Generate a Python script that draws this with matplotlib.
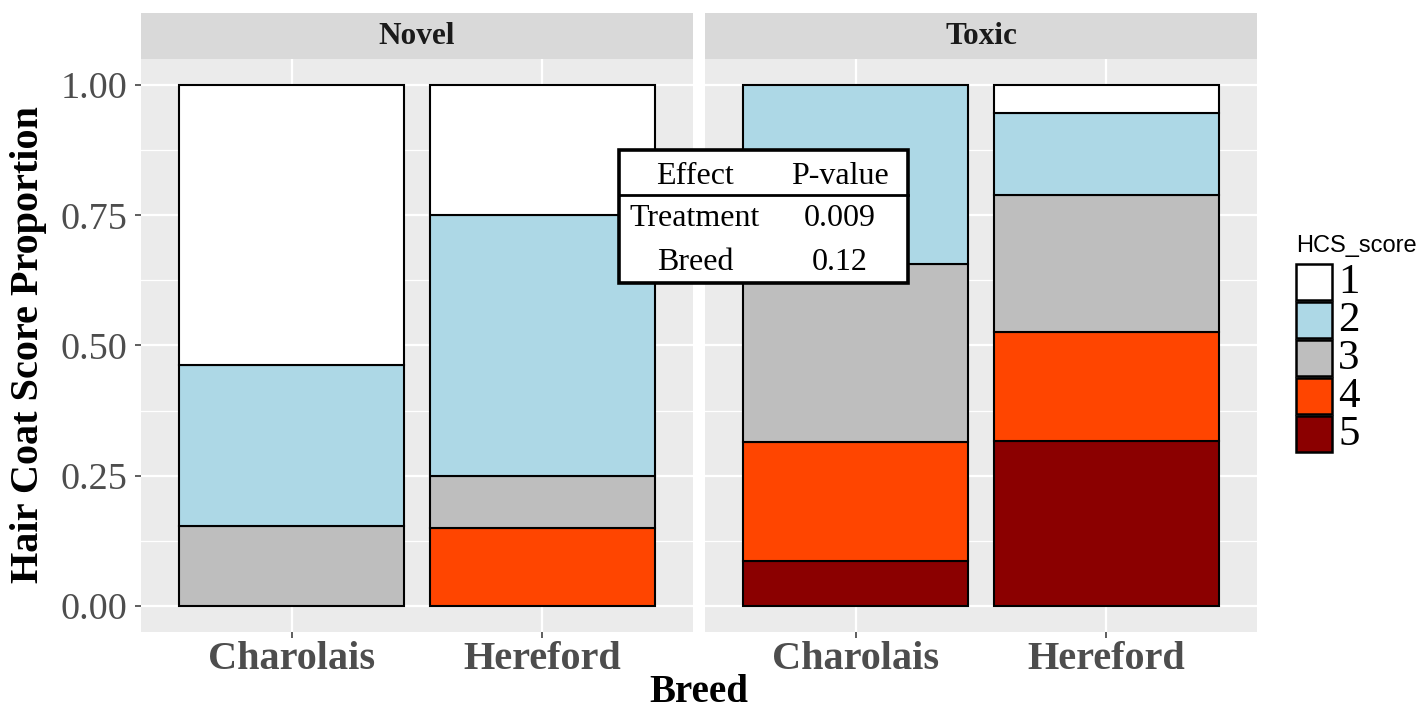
import matplotlib
matplotlib.use("Agg")
import matplotlib.pyplot as plt
from matplotlib.patches import Rectangle
from matplotlib.lines import Line2D
import numpy as np

# ---- data -------------------------------------------------------------
treatments = ["Novel", "Toxic"]
breeds = ["Charolais", "Hereford"]
scores = ["1", "2", "3", "4", "5"]
score_colors = ["#FFFFFF", "#ADD8E6", "#BEBEBE", "#FF4500", "#8B0000"]

# proportion of animals in each hair coat score (1..5)
novel_charolais = [0.538, 0.308, 0.154, 0.0, 0.0]
novel_hereford = [0.250, 0.500, 0.100, 0.150, 0.0]
toxic_charolais = [0.0, 0.343, 0.343, 0.228, 0.086]
toxic_hereford = [0.053, 0.158, 0.263, 0.210, 0.316]

panel_data = {
    "Novel": [novel_charolais, novel_hereford],
    "Toxic": [toxic_charolais, toxic_hereford],
}

effects = ["Treatment", "Breed"]
p_values = ["0.009", "0.12"]

y_ticks = [0.0, 0.25, 0.5, 0.75, 1.0]
y_tick_labels = ["0.00", "0.25", "0.50", "0.75", "1.00"]

# ---- figure -----------------------------------------------------------
W, H = 1422, 711
fig = plt.figure(figsize=(W / 100, H / 100), dpi=100)
fig.patch.set_facecolor("white")

SERIF = "Liberation Serif"
SANS = "Liberation Sans"


def fx(px):
    return px / W


def fy(py):
    return 1 - py / H


panel_lefts = [141, 705]
panel_width = 552
panel_top, panel_bottom = 59, 632
strip_top = 13

axes = []
for i, (treat, left) in enumerate(zip(treatments, panel_lefts)):
    ax = fig.add_axes([fx(left), fy(panel_bottom), fx(panel_width),
                       (panel_bottom - panel_top) / H])
    ax.set_facecolor("#EBEBEB")
    ax.set_xlim(0.4, 2.6)
    ax.set_ylim(-0.05, 1.05)
    for s in ax.spines.values():
        s.set_visible(False)

    # grid
    for v in np.arange(0.125, 1.0, 0.25):
        ax.axhline(v, color="white", lw=0.9, zorder=0)
    for v in y_ticks:
        ax.axhline(v, color="white", lw=1.6, zorder=0)
    for xv in [1, 2]:
        ax.axvline(xv, color="white", lw=1.6, zorder=0)

    # stacked bars: score 5 at the bottom, score 1 on top
    x = np.arange(1, len(breeds) + 1)
    for b, props in enumerate(panel_data[treat]):
        bottom = 0.0
        for k in range(len(scores) - 1, -1, -1):
            h = props[k]
            if h <= 0:
                continue
            ax.bar(x[b], h, bottom=bottom, width=0.9, color=score_colors[k],
                   edgecolor="black", linewidth=1.5, zorder=2)
            bottom += h

    ax.set_xticks(x)
    ax.set_xticklabels(breeds, fontsize=29, fontweight="bold",
                       family=SERIF, color="#4D4D4D")
    ax.tick_params(axis="x", length=4.5, width=1.1, color="#333333", pad=2)
    ax.set_yticks(y_ticks)
    if i == 0:
        ax.set_yticklabels(y_tick_labels, fontsize=27.5, family=SERIF,
                           color="#4D4D4D")
        ax.tick_params(axis="y", length=4.5, width=1.1, color="#333333",
                       pad=5)
    else:
        ax.tick_params(axis="y", length=0, labelleft=False)

    # facet strip
    sax = fig.add_axes([fx(left), fy(panel_top), fx(panel_width),
                        (panel_top - strip_top) / H])
    sax.set_facecolor("#D9D9D9")
    sax.set_xticks([])
    sax.set_yticks([])
    for s in sax.spines.values():
        s.set_visible(False)
    sax.text(0.5, 0.5, treat, ha="center", va="center", fontsize=22.5,
             fontweight="bold", family=SERIF, color="#1A1A1A",
             transform=sax.transAxes)
    axes.append(ax)

# axis titles
fig.text(fx(29), fy(345), "Hair Coat Score Proportion", rotation=90,
         ha="center", va="center", fontsize=29, fontweight="bold",
         family=SERIF, color="black")
fig.text(fx(699), fy(702), "Breed", ha="center", va="baseline", fontsize=28,
         fontweight="bold", family=SERIF, color="black")

# ---- statistics table ---------------------------------------------------
tx0, tx1, ty0, ty1 = 619, 908, 150, 283
fig.patches.append(Rectangle((fx(tx0), fy(ty1)), fx(tx1 - tx0),
                             (ty1 - ty0) / H, transform=fig.transFigure,
                             facecolor="white", edgecolor="black",
                             linewidth=2.6, zorder=10))
fig.lines.append(Line2D([fx(tx0), fx(tx1)], [fy(195), fy(195)],
                        transform=fig.transFigure, color="black",
                        linewidth=2.0, zorder=11))
col_x = [695, 840]
fig.text(fx(col_x[0]), fy(177), "Effect", ha="center", va="center",
         fontsize=23, family=SERIF, zorder=12)
fig.text(fx(col_x[1]), fy(177), "P-value", ha="center", va="center",
         fontsize=23, family=SERIF, zorder=12)
for r, (eff, pv) in enumerate(zip(effects, p_values)):
    yy = 219 + r * 43
    fig.text(fx(col_x[0]), fy(yy), eff, ha="center", va="center",
             fontsize=23, family=SERIF, zorder=12)
    fig.text(fx(col_x[1]), fy(yy), pv, ha="center", va="center",
             fontsize=23, family=SERIF, zorder=12)

# ---- legend -------------------------------------------------------------
fig.text(fx(1296), fy(246), "HCS_score", ha="left", va="center",
         fontsize=17, family=SANS, color="black")
key_x, key_y0, key_size, key_step = 1296, 264, 36, 38
for k, (lab, col) in enumerate(zip(scores, score_colors)):
    top = key_y0 + k * key_step
    fig.patches.append(Rectangle((fx(key_x), fy(top + key_size)),
                                 fx(key_size), key_size / H,
                                 transform=fig.transFigure, facecolor=col,
                                 edgecolor="black", linewidth=1.8))
    fig.text(fx(1338), fy(top + key_size / 2 + 1), lab, ha="left",
             va="center", fontsize=31, family=SERIF, color="black")

fig.savefig("out.png", dpi=100)
